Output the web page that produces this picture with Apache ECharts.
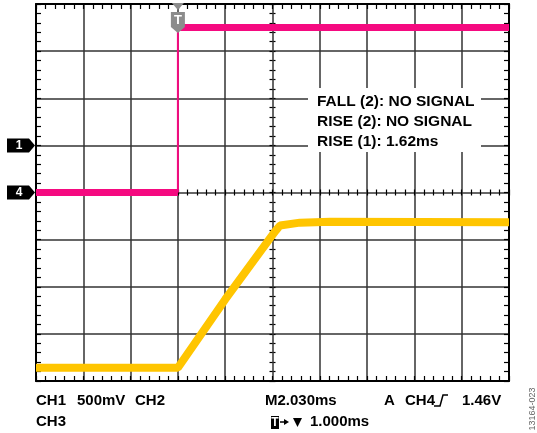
<!DOCTYPE html>
<html>
<head>
<meta charset="utf-8">
<script src="https://cdn.jsdelivr.net/npm/echarts@6/dist/echarts.min.js"></script>
<style>
  html, body { margin: 0; padding: 0; background: #fff; }
  #chart { width: 537px; height: 433px; }
</style>
</head>
<body>
<div id="chart"></div>
<script>
// scope grid in divisions, centred on the screen middle
var ch4Time  = [-5, -2.0, -2.0, 5];
var ch4Level = [0.0, 0.0, 3.5, 3.5];

var ch1Time  = [-5, -2.0, -1.0, -0.05, 0.06, 0.16, 0.58, 1.22, 5];
var ch1Level = [-3.72, -3.72, -2.27, -0.97, -0.82, -0.70, -0.64, -0.62, -0.63];

var measureLines = ['FALL (2): NO SIGNAL', 'RISE (2): NO SIGNAL', 'RISE (1): 1.62ms'];
var chMarkers = [{ name: '1', level: 1 }, { name: '4', level: 0 }];
var triggerTime = -2.0;

var FONT = '"Liberation Sans", Arial, sans-serif';
var L = 36, T = 4, GRID_W = 473, GRID_H = 377;

var myChart = echarts.init(document.getElementById('chart'));

var ch4Flat = [[ch4Time[0], ch4Level[0]], [ch4Time[1], ch4Level[1]], null,
               [ch4Time[2], ch4Level[2]], [ch4Time[3], ch4Level[3]]];
var ch4Edge = [[ch4Time[1], ch4Level[1]], [ch4Time[2], ch4Level[2]]];
var ch1Data = ch1Time.map(function (t, i) { return [t, ch1Level[i]]; });

function hiddenAxis(gi) {
    return { type: 'value', gridIndex: gi, min: 0, max: 1, show: false };
}
// fine tick strip: five ticks per division
function tickAxis(dim, gi) {
    return {
        type: 'value', gridIndex: gi,
        min: dim === 'x' ? -5 : -4, max: dim === 'x' ? 5 : 4, interval: 0.2,
        axisLine: { show: false },
        axisTick: { show: false },
        axisLabel: { show: false },
        splitLine: { show: true, lineStyle: { color: '#000', width: 1.2 } }
    };
}
function frameAxis(dim, pos, split) {
    return {
        type: 'value', gridIndex: 0, position: pos,
        min: dim === 'x' ? -5 : -4, max: dim === 'x' ? 5 : 4, interval: 1,
        axisLine: { show: true, onZero: false, lineStyle: { color: '#000', width: 2 } },
        axisTick: { show: false },
        axisLabel: { show: false },
        splitLine: { show: split, lineStyle: { color: '#333', width: 1.5 } }
    };
}

var grids = [
    { left: L, top: T, width: GRID_W, height: GRID_H },
    { left: L, top: T + GRID_H - 5, width: GRID_W, height: 5 },
    { left: L, top: T, width: GRID_W, height: 5 },
    { left: L, top: T + GRID_H / 2 - 3, width: GRID_W, height: 6 },
    { left: L, top: T, width: 5, height: GRID_H },
    { left: L + GRID_W - 5, top: T, width: 5, height: GRID_H },
    { left: L + GRID_W / 2 - 3, top: T, width: 6, height: GRID_H }
];
var xAxes = [frameAxis('x', 'bottom', true), tickAxis('x', 1), tickAxis('x', 2), tickAxis('x', 3),
             hiddenAxis(4), hiddenAxis(5), hiddenAxis(6), frameAxis('x', 'top', false)];
var yAxes = [frameAxis('y', 'left', true), hiddenAxis(1), hiddenAxis(2), hiddenAxis(3),
             tickAxis('y', 4), tickAxis('y', 5), tickAxis('y', 6), frameAxis('y', 'right', false)];

var option = {
    animation: false,
    backgroundColor: '#fff',
    grid: grids,
    xAxis: xAxes,
    yAxis: yAxes,
    series: [
        {
            name: 'CH1', type: 'line', data: ch1Data, showSymbol: false,
            lineStyle: { color: '#FFC500', width: 8 }, z: 3
        },
        {
            name: 'CH4', type: 'line', data: ch4Flat, showSymbol: false, connectNulls: false,
            lineStyle: { color: '#F50A80', width: 7 }, z: 4
        },
        {
            name: 'CH4 edge', type: 'line', data: ch4Edge, showSymbol: false,
            lineStyle: { color: '#F50A80', width: 2 }, z: 4
        }
    ]
};
myChart.setOption(option);

var g = [];
chMarkers.forEach(function (m) {
    var y = myChart.convertToPixel({ gridIndex: 0 }, [0, m.level])[1];
    g.push({
        type: 'polygon', z: 100,
        shape: { points: [[7, y - 7], [29, y - 7], [35, y], [29, y + 7], [7, y + 7]] },
        style: { fill: '#000' }
    });
    g.push({
        type: 'text', z: 101, x: 19, y: y,
        style: { text: m.name, fill: '#fff', font: 'bold 12px ' + FONT, align: 'center', verticalAlign: 'middle' }
    });
});
var tx = myChart.convertToPixel({ gridIndex: 0 }, [triggerTime, 0])[0];
g.push({ type: 'polygon', z: 100, shape: { points: [[tx - 6, 3], [tx + 6, 3], [tx, 10]] }, style: { fill: '#8c8c8c' } });
g.push({ type: 'polygon', z: 100, shape: { points: [[tx - 7, 12], [tx + 7, 12], [tx + 7, 27], [tx, 33], [tx - 7, 27]] }, style: { fill: '#8c8c8c' } });
g.push({ type: 'text', z: 101, x: tx, y: 20, style: { text: 'T', fill: '#fff', font: 'bold 13px ' + FONT, align: 'center', verticalAlign: 'middle' } });

g.push({ type: 'rect', z: 100, shape: { x: 308, y: 88, width: 173, height: 64 }, style: { fill: '#fff' } });
measureLines.forEach(function (s, i) {
    g.push({ type: 'text', z: 101, x: 317, y: 102 + i * 20,
        style: { text: s, fill: '#000', font: 'bold 15.5px ' + FONT, verticalAlign: 'middle' } });
});

function label(s, x, y) {
    g.push({ type: 'text', z: 101, x: x, y: y, style: { text: s, fill: '#000', font: 'bold 15px ' + FONT, verticalAlign: 'middle' } });
}
label('CH1', 36, 401);
label('500mV', 77, 401);
label('CH2', 135, 401);
label('CH3', 36, 422);
label('M2.030ms', 265, 401);
label('A', 384, 401);
label('CH4', 405, 401);
label('1.46V', 462, 401);
label('1.000ms', 310, 422);
g.push({ type: 'polyline', z: 101, shape: { points: [[434, 406], [440, 406], [443, 395], [448, 395]] }, style: { stroke: '#000', lineWidth: 1.5, fill: null } });
g.push({ type: 'rect', z: 101, shape: { x: 271, y: 416, width: 8, height: 13 }, style: { fill: '#000' } });
g.push({ type: 'text', z: 102, x: 275, y: 422.5, style: { text: 'T', fill: '#fff', font: 'bold 12px ' + FONT, align: 'center', verticalAlign: 'middle' } });
g.push({ type: 'line', z: 101, shape: { x1: 280, y1: 422, x2: 285, y2: 422 }, style: { stroke: '#000', lineWidth: 1.5 } });
g.push({ type: 'polygon', z: 101, shape: { points: [[284, 419], [289, 422], [284, 425]] }, style: { fill: '#000' } });
g.push({ type: 'polygon', z: 101, shape: { points: [[293, 418], [302, 418], [297.5, 427]] }, style: { fill: '#000' } });
g.push({ type: 'text', z: 101, x: 533, y: 409, rotation: Math.PI / 2,
    style: { text: '13164-023', fill: '#666', font: '9px ' + FONT, align: 'center', verticalAlign: 'middle' } });

myChart.setOption({ graphic: g });
window.addEventListener('resize', myChart.resize);
</script>
</body>
</html>
